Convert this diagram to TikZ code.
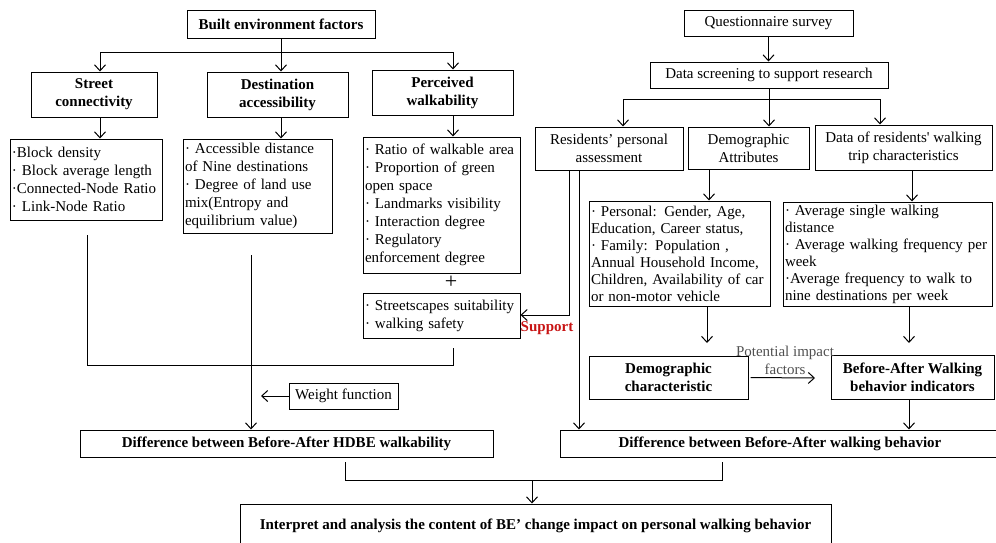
\documentclass[tikz,border=0pt]{standalone}
\usepackage{fontspec}
\setmainfont{Liberation Serif}
\usepackage{tikz}
\usetikzlibrary{arrows.meta}
\definecolor{SupportRed}{RGB}{200,20,20}
\definecolor{ImpactGray}{RGB}{80,80,80}

\begin{document}
\begin{tikzpicture}[x=1pt,y=-1pt,line width=1pt,
  hbox/.style 2 args={draw,minimum width=#1,minimum height=#2,inner sep=1pt,align=center},
  tbox/.style 2 args={draw,text width=#1,minimum height=#2,inner xsep=2pt,inner ysep=0pt,align=left},
  arr/.style={-{Straight Barb[length=6pt,width=11pt]}}]
\fontsize{15}{18}\selectfont
\useasboundingbox (0,0) rectangle (996,542);
\node[hbox={188}{28},font=\bfseries](bef) at(281,24) {Built environment factors};
\node[hbox={126}{45},font=\bfseries](sc) at(94,94.5) {Street\\connectivity};
\node[hbox={141}{45},font=\bfseries](da) at(277.5,94.5) {Destination\\accessibility};
\node[hbox={141}{45},font=\bfseries](pw) at(442.5,92.5) {Perceived\\walkability};
\node[tbox={148}{81}](scl) at(86,179.5) {·Block density\\· Block average length\\·Connected-Node Ratio\\· Link-Node Ratio};
\node[tbox={145}{94}](dal) at(257.5,186) {· Accessible distance\\of Nine destinations\\· Degree of land use\\mix(Entropy and\\equilibrium value)};
\node[tbox={153}{136}](pwl) at(441.5,205) {· Ratio of walkable area\\· Proportion of green\\open space\\· Landmarks visibility\\· Interaction degree\\· Regulatory\\enforcement degree};
\node(plus) at(451,282) {\fontsize{22}{22}\selectfont +};
\node[tbox={153}{45}](ssl) at(441.5,315.5) {· Streetscapes suitability\\· walking safety};
\node[font=\bfseries,text=SupportRed](sup) at(547,328) {Support};
\node[hbox={109}{26}](wf) at(343.5,396) {Weight function};
\node[hbox={413}{27},font=\bfseries](hdbe) at(286.5,443.5) {Difference between Before-After HDBE walkability};
\node[hbox={169}{26}](qs) at(768.5,23) {Questionnaire survey};
\node[hbox={238}{26}](ds) at(769,75) {Data screening to support research};
\node[hbox={148}{43}](rpa) at(609,148.5) {Residents’ personal\\assessment};
\node[hbox={121}{42}](dat) at(748.5,148) {Demographic\\Attributes};
\node[hbox={177}{45}](drw) at(903.5,147.5) {Data of residents\textquotesingle\ walking\\trip characteristics};
\node[tbox={177}{105},font=\fontsize{15}{17}\selectfont](pel) at(679.5,253.5) {· Personal: Gender, Age,\\Education, Career status,\\· Family: Population ,\\Annual Household Income,\\Children, Availability of car\\or non-motor vehicle};
\node[tbox={205}{104},font=\fontsize{15}{17}\selectfont](wal) at(887.5,254) {· Average single walking\\distance\\· Average walking frequency per\\week\\·Average frequency to walk to\\nine destinations per week};
\node[hbox={159}{43},font=\bfseries](dc) at(668.5,377.5) {Demographic\\characteristic};
\node[hbox={163}{44},font=\bfseries](bai) at(912.5,377) {Before-After Walking\\behavior indicators};
\node[text=ImpactGray,align=center,inner sep=0pt](pif) at(785,360) {Potential impact\\factors};
\node[hbox={440}{27},font=\bfseries](dbw) at(780,443.5) {Difference between Before-After walking behavior};
\node[hbox={591}{44},font=\bfseries](fin) at(535.5,526) {Interpret and analysis the content of BE’ change impact on personal walking behavior};
\coordinate(b1) at(100,52);
\coordinate(b3) at(453,52);
\draw (b1) -- (b3);
\draw[arr] (b1) -- (b1 |- sc.north);
\draw[arr] (b3) -- (b3 |- pw.north);
\draw[arr] (bef.south) -- (bef.south |- da.north);
\draw[arr] (b1 |- sc.south) -- (b1 |- scl.north);
\draw[arr] (bef.south |- da.south) -- (bef.south |- dal.north);
\draw[arr] (b3 |- pw.south) -- (b3 |- pwl.north);
\coordinate(s1) at(87,235);
\coordinate(s2) at(87,365);
\coordinate(s3) at(453,365);
\coordinate(s4) at(453,348);
\draw (s1) -- (s2) -- (s3) -- (s4);
\coordinate(d1) at(251,255);
\draw[arr] (d1) -- (d1 |- hdbe.north);
\coordinate(wfend) at(261,396);
\draw[arr] (wf.west) -- (wfend);
\coordinate(r1) at(623,99);
\coordinate(r3) at(880,99);
\draw[arr] (qs.south) -- (qs.south |- ds.north);
\draw (r1) -- (r3);
\draw[arr] (ds.south) -- (ds.south |- dat.north);
\draw[arr] (r1) -- (r1 |- rpa.north);
\draw[arr] (r3) -- (r3 |- drw.north);
\coordinate(pa) at(709,201);
\coordinate(wa) at(912,202);
\draw[arr] (pa |- dat.south) -- (pa |- pel.north);
\draw[arr] (wa |- drw.south) -- (wa |- wal.north);
\coordinate(pb) at(707,343);
\coordinate(wb) at(909,343);
\draw[arr] (pb |- pel.south) -- (pb);
\draw[arr] (wb |- wal.south) -- (wb);
\coordinate(pie) at(815,378);
\draw[arr] ([xshift=2pt]dc.east) -- (pie);
\draw[arr] (wb |- bai.south) -- (wb |- dbw.north);
\coordinate(ra) at(569,315);
\coordinate(rb) at(579,430);
\draw[arr] (ra |- rpa.south) -- (ra) -- (ra -| ssl.east);
\draw[arr] (rb |- rpa.south) -- (rb |- dbw.north);
\coordinate(fl0) at(345,462);
\coordinate(fl) at(345,480);
\coordinate(fr) at(722,480);
\coordinate(fr0) at(722,462);
\coordinate(fm) at(532,480);
\draw (fl0) -- (fl) -- (fr) -- (fr0);
\draw[arr] (fm) -- (fm |- fin.north);
\end{tikzpicture}
\end{document}
